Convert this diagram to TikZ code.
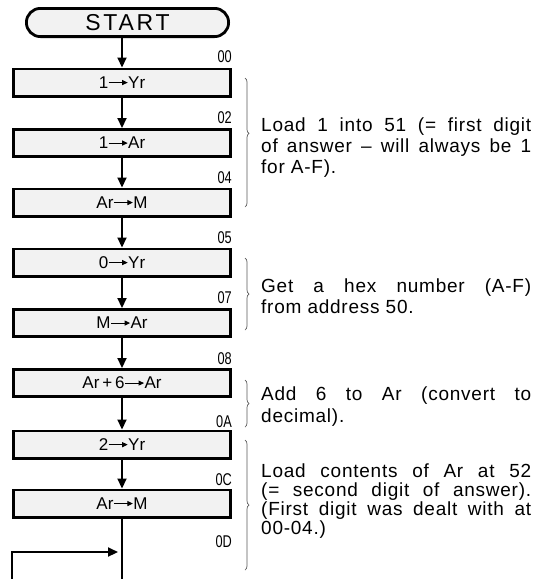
\documentclass[tikz,border=0pt]{standalone}
\usepackage{fontspec}
\setmainfont{Liberation Sans}
\newfontfamily\addrfont[FakeStretch=0.75]{Liberation Sans}
\newfontfamily\bodyfont[LetterSpace=4]{Liberation Sans}
\newfontfamily\startfont[LetterSpace=12]{Liberation Sans}
\usetikzlibrary{arrows.meta,decorations.pathreplacing}
\newcommand\rarr{\tikz[baseline=-0.34em]\draw[line width=1pt,-{Triangle[length=5.5pt,width=5pt]}] (0pt,0pt) -- (19pt,0pt);}
\begin{document}
\begin{tikzpicture}[x=1pt,y=-1pt,
  boxnode/.style={draw, line width=2.8pt, fill=gray!10, minimum width=217.2pt, minimum height=27.2pt, inner sep=0pt, font=\fontsize{17}{17}\selectfont},
  startnode/.style={draw, line width=2.8pt, fill=gray!10, rounded corners=14pt, minimum width=202.2pt, minimum height=28.2pt, inner sep=0pt, font=\startfont\fontsize{23}{23}\selectfont},
  flow/.style={line width=2.2pt, -{Triangle[length=10pt,width=9pt]}},
  plainline/.style={line width=2.2pt},
  addr/.style={anchor=east, inner sep=0pt, font=\addrfont\fontsize{17}{17}\selectfont},
  txt/.style={anchor=base west, inner sep=0pt, font=\bodyfont\fontsize{19}{19}\selectfont},
  bracket/.style={decorate, decoration={brace, amplitude=4pt, aspect=#1}, line width=0.7pt, gray!70!black},
  bracket/.default=0.5]
\useasboundingbox (0,0) rectangle (536,579);

% start and boxes
\node[startnode] (start) at (127.5,22.5) {START};
\node[boxnode] (b1) at (122,82.5) {1\rarr Yr};
\node[boxnode] (b2) at (122,143) {1\rarr Ar};
\node[boxnode] (b3) at (122,202.5) {Ar\rarr M};
\node[boxnode] (b4) at (122,262.5) {0\rarr Yr};
\node[boxnode] (b5) at (122,323) {M\rarr Ar};
\node[boxnode] (b6) at (122,383) {Ar\,+\,6\rarr Ar};
\node[boxnode] (b7) at (122,444.5) {2\rarr Yr};
\node[boxnode] (b8) at (122,503.5) {Ar\rarr M};

% connectors
\draw[flow] (start.south -| b1.north) -- (b1.north);
\draw[flow] (b1) -- (b2);
\draw[flow] (b2) -- (b3);
\draw[flow] (b3) -- (b4);
\draw[flow] (b4) -- (b5);
\draw[flow] (b5) -- (b6);
\draw[flow] (b6) -- (b7);
\draw[flow] (b7) -- (b8);
\coordinate (bot) at (122,580);
\coordinate (loopstart) at (12,580);
\coordinate (join) at (122,552);
\draw[plainline] (b8) -- (bot);
\draw[flow, shorten >=4pt] (loopstart) |- (join);

% addresses
\node[addr] (l00) at (232,57) {00};
\node[addr] (l02) at (232,118) {02};
\node[addr] (l04) at (232,178) {04};
\node[addr] (l05) at (232,238) {05};
\node[addr] (l07) at (232,298) {07};
\node[addr] (l08) at (232,359) {08};
\node[addr] (l0A) at (232,422) {0A};
\node[addr] (l0C) at (232,480) {0C};
\node[addr] (l0D) at (232,542) {0D};

% braces
\coordinate (br1a) at (245,78);  \coordinate (br1b) at (245,207);
\coordinate (br2a) at (245,258); \coordinate (br2b) at (245,330);
\coordinate (br3a) at (245,380); \coordinate (br3b) at (245,427);
\coordinate (br4a) at (245,440); \coordinate (br4b) at (245,570);
\draw[bracket=0.43] (br1a) -- (br1b);
\draw[bracket] (br2a) -- (br2b);
\draw[bracket] (br3a) -- (br3b);
\draw[bracket] (br4a) -- (br4b);

% comments
\node[txt] (t1a) at (261,131) {\makebox[270pt][s]{Load 1 into 51 (= first digit}};
\node[txt] (t1b) at (261,152.5) {\makebox[270pt][s]{of answer – will always be 1}};
\node[txt] (t1c) at (261,173.5) {for A-F).};

\node[txt] (t2a) at (261,292.5) {\makebox[270pt][s]{Get a hex number (A-F)}};
\node[txt] (t2b) at (261,313.5) {from address 50.};

\node[txt] (t3a) at (261,400.5) {\makebox[270pt][s]{Add 6 to Ar (convert to}};
\node[txt] (t3b) at (261,422.5) {decimal).};

\node[txt] (t4a) at (261,477.5) {\makebox[270pt][s]{Load contents of Ar at 52}};
\node[txt] (t4b) at (261,496) {\makebox[270pt][s]{(= second digit of answer).}};
\node[txt] (t4c) at (261,515) {\makebox[270pt][s]{(First digit was dealt with at}};
\node[txt] (t4d) at (261,534) {00-04.)};
\end{tikzpicture}
\end{document}
